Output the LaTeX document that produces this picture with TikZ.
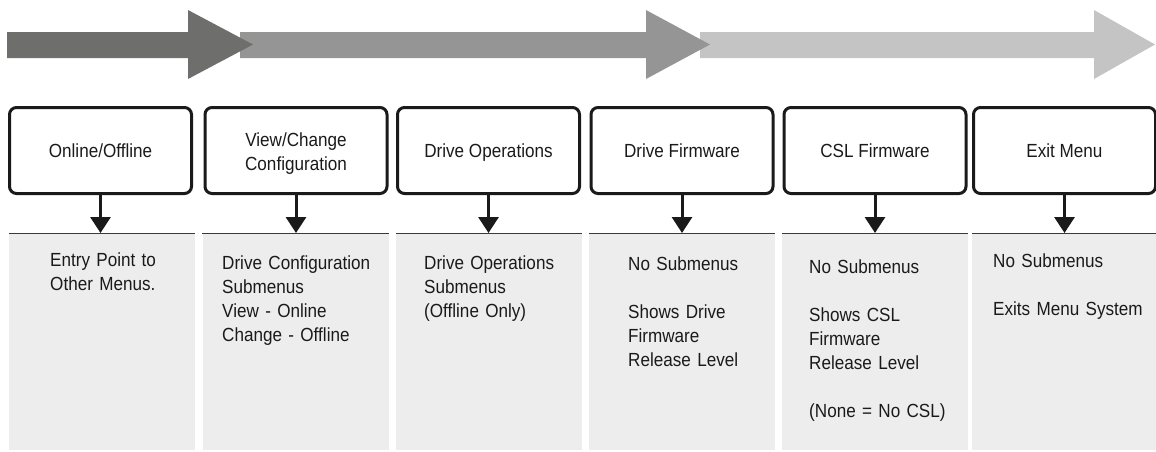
\documentclass[tikz,border=0pt]{standalone}
\usepackage{fontspec}
\setmainfont{Liberation Sans}[FakeStretch=0.9]
\usetikzlibrary{arrows.meta}
\definecolor{arrA}{HTML}{6E6E6C}
\definecolor{arrB}{HTML}{959595}
\definecolor{arrC}{HTML}{C4C4C4}
\definecolor{panelfill}{HTML}{EDEDED}
\definecolor{ink}{HTML}{1A1A1A}
\definecolor{rule}{HTML}{3A3A3A}
\begin{document}
\begin{tikzpicture}[x=1pt,y=-1pt,
  txt/.style={font=\fontsize{19}{24}\selectfont, text=ink},
  menubox/.style={txt, draw=ink, line width=3pt, rounded corners=7pt,
    minimum width=182pt, minimum height=86pt, align=center, inner sep=2pt},
  oneline/.style={text height=17pt, text depth=4pt},
  twoline/.style={text width=176pt, text height=19.5pt, text depth=28.5pt},
  panel/.style={fill=panelfill, minimum width=186pt, minimum height=217pt,
    inner sep=0pt, anchor=north},
  paneltext/.style={txt, anchor=base west, text width=175pt, align=left, inner sep=0pt},
  down/.style={draw=ink, line width=3pt, -{Triangle[width=20pt,length=16pt]}},
  topline/.style={draw=rule, line width=1pt},
  seg/.style={draw=none}
]
\useasboundingbox (0,0) rectangle (1156,451);

% big progress arrow (drawn back to front)
\fill[arrC, seg] (700,32) -- (1094,32) -- (1094,10) -- (1155,44.5) -- (1094,79) -- (1094,58) -- (700,58) -- cycle;
\fill[arrB, seg] (240,32) -- (646,32) -- (646,10) -- (710,44.5) -- (646,79) -- (646,58) -- (240,58) -- cycle;
\fill[arrA, seg] (7,32) -- (188,32) -- (188,10) -- (253,44.5) -- (188,79) -- (188,58) -- (7,58) -- cycle;

% menu boxes
\node[menubox, oneline] (b1) at (100.5,150.5) {Online/Offline};
\node[menubox, twoline] (b2) at (296,150.5) {View/Change\\Configuration};
\node[menubox, oneline] (b3) at (488.5,150.5) {Drive Operations};
\node[menubox, oneline] (b4) at (682,150.5) {Drive Firmware};
\node[menubox, oneline] (b5) at (875,150.5) {CSL Firmware};
\node[menubox, oneline] (b6) at (1064.5,150.5) {Exit Menu};

% panels
\node[panel] (p1) at (102,233) {};
\node[panel] (p2) at (295.5,233) {};
\node[panel] (p3) at (489,233) {};
\node[panel] (p4) at (682,233) {};
\node[panel] (p5) at (875,233) {};
\node[panel] (p6) at (1065,233) {};
\foreach \i in {1,...,6} {
  \draw[topline] (p\i.north west) -- (p\i.north east);
}

% connectors
\foreach \i in {1,...,6} {
  \draw[down] (b\i.south) -- (b\i.south |- p\i.north);
}

% panel texts
\node[paneltext] (t1) at (50,266) {Entry Point to\\Other Menus.};
\node[paneltext] (t2) at (222,269) {Drive Configuration\\Submenus\\View - Online\\Change - Offline};
\node[paneltext] (t3) at (424,269) {Drive Operations\\Submenus\\(Offline Only)};
\node[paneltext] (t4) at (628,270) {No Submenus\\[24pt]Shows Drive\\Firmware\\Release Level};
\node[paneltext] (t5) at (809,273) {No Submenus\\[24pt]Shows CSL\\Firmware\\Release Level\\[24pt](None = No CSL)};
\node[paneltext] (t6) at (993,267) {No Submenus\\[24pt]Exits Menu System};
\end{tikzpicture}
\end{document}
